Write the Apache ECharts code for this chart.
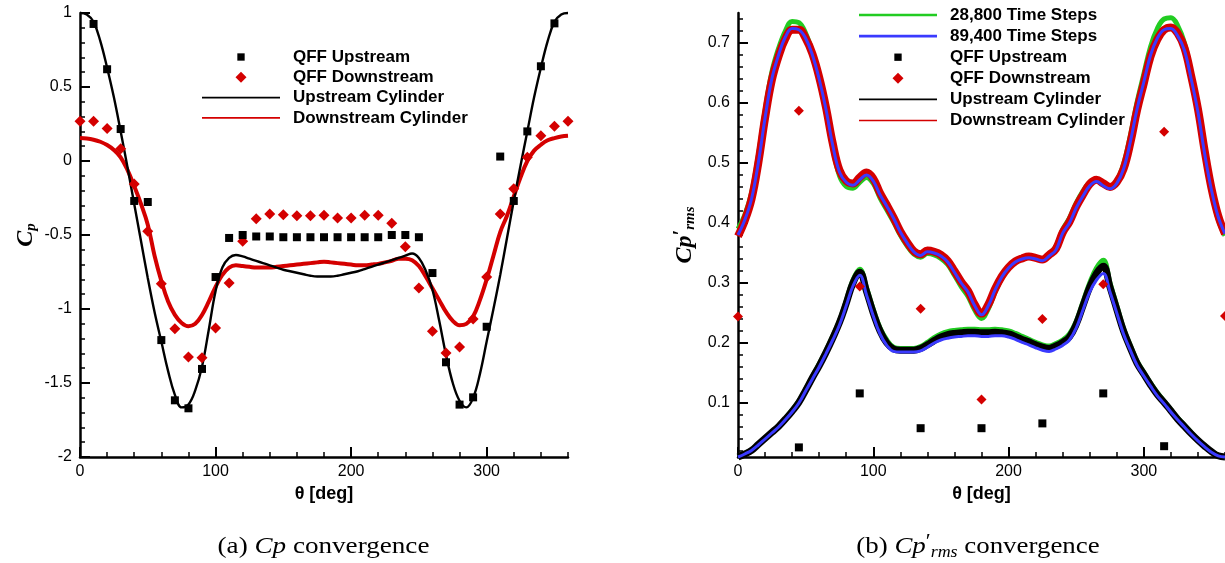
<!DOCTYPE html>
<html><head><meta charset="utf-8">
<script src="https://cdn.jsdelivr.net/npm/echarts@6/dist/echarts.min.js"></script>
<style>html,body{margin:0;padding:0;background:#fff}#c{width:1225px;height:563px}</style>
</head><body><div id="c"></div>
<script>
// ---------- shared angles ----------
const thetaLine = [0,5,10,15,20,25,30,35,40,45,50,55,60,65,70,75,80,85,90,95,100,105,110,115,120,125,130,135,140,145,150,155,160,165,170,175,180,185,190,195,200,205,210,215,220,225,230,235,240,245,250,255,260,265,270,275,280,285,290,295,300,305,310,315,320,325,330,335,340,345,350,355,360];

// ---------- (a) Cp ----------
const thetaQffUpA = [10,20,30,40,50,60,70,80,90,100,110,120,130,140,150,160,170,180,190,200,210,220,230,240,250,260,270,280,290,300,310,320,330,340,350];
const cpQffUp = [0.926,0.62,0.216,-0.27,-0.277,-1.21,-1.617,-1.671,-1.405,-0.784,-0.52,-0.50,-0.51,-0.51,-0.515,-0.515,-0.515,-0.515,-0.515,-0.515,-0.515,-0.515,-0.50,-0.50,-0.515,-0.757,-1.36,-1.646,-1.597,-1.12,0.03,-0.27,0.2,0.64,0.93];
const thetaQffDnA = [0,10,20,30,40,50,60,70,80,90,100,110,120,130,140,150,160,170,180,190,200,210,220,230,240,250,260,270,280,290,300,310,320,330,340,350,360];
const cpQffDn = [0.268,0.268,0.22,0.083,-0.155,-0.475,-0.83,-1.133,-1.324,-1.33,-1.128,-0.824,-0.543,-0.39,-0.358,-0.363,-0.37,-0.37,-0.367,-0.385,-0.385,-0.367,-0.367,-0.42,-0.58,-0.858,-1.15,-1.297,-1.257,-1.068,-0.784,-0.358,-0.187,0.025,0.171,0.234,0.268];
const cpUpCyl = [1.0,0.99,0.94,0.81,0.63,0.43,0.2,-0.04,-0.29,-0.54,-0.79,-1.02,-1.22,-1.42,-1.58,-1.665,-1.645,-1.55,-1.39,-1.14,-0.88,-0.72,-0.655,-0.635,-0.645,-0.66,-0.675,-0.69,-0.705,-0.72,-0.735,-0.745,-0.755,-0.765,-0.775,-0.78,-0.78,-0.78,-0.775,-0.765,-0.755,-0.745,-0.73,-0.715,-0.7,-0.685,-0.67,-0.655,-0.64,-0.625,-0.655,-0.74,-0.87,-1.08,-1.31,-1.5,-1.62,-1.665,-1.6,-1.44,-1.22,-1.0,-0.77,-0.52,-0.27,-0.03,0.2,0.43,0.63,0.81,0.94,0.99,1.0];
const cpDnCyl = [0.155,0.152,0.144,0.13,0.108,0.075,0.025,-0.06,-0.17,-0.29,-0.43,-0.64,-0.81,-0.95,-1.04,-1.095,-1.117,-1.1,-1.04,-0.95,-0.85,-0.77,-0.72,-0.705,-0.71,-0.715,-0.72,-0.72,-0.72,-0.715,-0.71,-0.705,-0.7,-0.695,-0.69,-0.685,-0.68,-0.685,-0.69,-0.695,-0.7,-0.705,-0.705,-0.7,-0.695,-0.685,-0.675,-0.66,-0.66,-0.67,-0.71,-0.78,-0.86,-0.94,-1.02,-1.08,-1.11,-1.1,-1.05,-0.94,-0.8,-0.64,-0.48,-0.37,-0.24,-0.11,0.0,0.07,0.11,0.14,0.155,0.165,0.17];

// ---------- (b) Cp'rms ----------
const thetaQffUpB = [45,90,135,180,225,270,315];
const rmsQffUp = [0.026,0.116,0.058,0.058,0.066,0.116,0.028];
const thetaQffDnB = [0,45,90,135,180,225,270,315,360];
const rmsQffDn = [0.244,0.587,0.294,0.257,0.106,0.24,0.298,0.552,0.245];

const rmsDn28800 = [0.390,0.413,0.450,0.512,0.587,0.651,0.691,0.720,0.736,0.734,
  0.716,0.684,0.641,0.588,0.526,0.479,0.461,0.458,0.468,0.476,
  0.466,0.442,0.422,0.402,0.380,0.362,0.348,0.343,0.349,0.347,
  0.341,0.331,0.313,0.294,0.278,0.255,0.241,0.257,0.285,0.308,
  0.325,0.336,0.342,0.345,0.343,0.340,0.349,0.361,0.389,0.408,
  0.433,0.453,0.468,0.473,0.465,0.460,0.471,0.498,0.545,0.601,
  0.648,0.694,0.724,0.740,0.742,0.729,0.700,0.649,0.590,0.516,
  0.453,0.406,0.379];
const rmsDn89400 = [0.380,0.405,0.440,0.500,0.575,0.640,0.680,0.710,0.724,0.722,
  0.708,0.680,0.640,0.590,0.530,0.485,0.468,0.463,0.472,0.480,
  0.470,0.447,0.428,0.408,0.385,0.367,0.352,0.346,0.352,0.350,
  0.345,0.335,0.318,0.300,0.285,0.262,0.247,0.262,0.288,0.310,
  0.325,0.335,0.340,0.342,0.340,0.337,0.345,0.355,0.383,0.400,
  0.425,0.445,0.462,0.469,0.462,0.457,0.466,0.490,0.535,0.590,
  0.635,0.680,0.708,0.722,0.724,0.712,0.688,0.640,0.585,0.515,
  0.455,0.410,0.382];
const rmsDnCyl = [0.378,0.404,0.440,0.500,0.575,0.638,0.678,0.707,0.722,0.722,
  0.708,0.682,0.643,0.593,0.533,0.488,0.470,0.466,0.476,0.484,
  0.474,0.450,0.430,0.409,0.386,0.368,0.353,0.348,0.354,0.352,
  0.347,0.337,0.320,0.302,0.287,0.264,0.249,0.264,0.290,0.311,
  0.326,0.336,0.341,0.344,0.342,0.339,0.347,0.357,0.384,0.402,
  0.427,0.447,0.465,0.472,0.466,0.460,0.468,0.490,0.533,0.588,
  0.633,0.678,0.706,0.722,0.726,0.716,0.692,0.645,0.590,0.520,
  0.458,0.412,0.382];
const rmsUp28800 = [0.011,0.016,0.022,0.032,0.042,0.052,0.062,0.074,0.088,0.103,
  0.123,0.144,0.165,0.187,0.211,0.237,0.270,0.305,0.323,0.292,
  0.256,0.225,0.205,0.193,0.191,0.191,0.191,0.194,0.201,0.209,
  0.215,0.219,0.221,0.222,0.223,0.223,0.222,0.222,0.223,0.222,
  0.220,0.216,0.211,0.206,0.201,0.197,0.195,0.199,0.205,0.215,
  0.236,0.268,0.300,0.325,0.338,0.300,0.262,0.224,0.196,0.170,
  0.151,0.133,0.117,0.103,0.089,0.075,0.063,0.051,0.039,0.029,
  0.020,0.013,0.011];
const rmsUp89400 = [0.010,0.015,0.021,0.030,0.040,0.050,0.060,0.072,0.085,0.100,
  0.120,0.140,0.160,0.182,0.205,0.230,0.262,0.295,0.313,0.280,
  0.245,0.215,0.196,0.186,0.185,0.185,0.185,0.187,0.193,0.200,
  0.205,0.208,0.210,0.211,0.212,0.212,0.211,0.211,0.212,0.212,
  0.210,0.206,0.201,0.197,0.192,0.188,0.186,0.190,0.196,0.205,
  0.225,0.255,0.285,0.305,0.316,0.285,0.250,0.215,0.188,0.163,
  0.145,0.128,0.112,0.099,0.085,0.072,0.060,0.048,0.037,0.027,
  0.018,0.012,0.010];
const rmsUpCyl = [0.010,0.015,0.021,0.031,0.041,0.051,0.061,0.073,0.086,0.101,
  0.121,0.142,0.162,0.184,0.208,0.234,0.266,0.300,0.318,0.286,
  0.250,0.220,0.200,0.190,0.188,0.188,0.188,0.191,0.197,0.204,
  0.210,0.214,0.216,0.217,0.218,0.218,0.217,0.217,0.218,0.217,
  0.215,0.211,0.206,0.202,0.197,0.193,0.191,0.195,0.201,0.210,
  0.231,0.262,0.293,0.316,0.328,0.293,0.256,0.220,0.192,0.166,
  0.148,0.130,0.114,0.101,0.087,0.073,0.061,0.049,0.038,0.028,
  0.019,0.012,0.010];

// ---------- tick values ----------
const xMajorTicks = [0,100,200,300];
const xMinorTicks = [20,40,60,80,120,140,160,180,220,240,260,280,320,340,360];
const yMajorTicksA = [-2,-1.5,-1,-0.5,0,0.5,1];
const yMinorTicksA = [-1.9,-1.8,-1.7,-1.6,-1.4,-1.3,-1.2,-1.1,-0.9,-0.8,-0.7,-0.6,-0.4,-0.3,-0.2,-0.1,0.1,0.2,0.3,0.4,0.6,0.7,0.8,0.9];
const yMajorTicksB = [0.1,0.2,0.3,0.4,0.5,0.6,0.7];
const yMinorTicksB = [0.02,0.04,0.06,0.08,0.12,0.14,0.16,0.18,0.22,0.24,0.26,0.28,0.32,0.34,0.36,0.38,0.42,0.44,0.46,0.48,0.52,0.54,0.56,0.58,0.62,0.64,0.66,0.68,0.72,0.74];

const pairs = (xs, ys) => xs.map((x, i) => [x, ys[i]]);

const RED = '#d40000', GREEN = '#22cc22', BLUE = '#3a3aff', BLACK = '#000';
const SANS = 'Liberation Sans', SERIF = 'Liberation Serif';
const LINE_ICON = 'path://M0,0H78V1.6H0Z';
const SQUARE_ICON = 'path://M0,0M12,12M2,2H10V10H2Z';
const DIAMOND_ICON = 'path://M5.5,0L11,5.5L5.5,11L0,5.5Z';

function mainX(grid, name) {
  return {
    type: 'value', gridIndex: grid, min: 0, max: 360, position: 'bottom',
    axisLine: { show: true, onZero: false, lineStyle: { color: BLACK, width: 2.5 } },
    axisTick: { show: true, inside: true, length: 10, customValues: xMajorTicks, lineStyle: { color: BLACK, width: 2 } },
    axisLabel: { show: true, customValues: xMajorTicks, color: BLACK, fontFamily: SANS, fontSize: 16, margin: 7 },
    splitLine: { show: false },
    name: name, nameLocation: 'middle', nameGap: 22,
    nameTextStyle: { color: BLACK, fontFamily: SANS, fontSize: 18, fontWeight: 'bold' }
  };
}
function minorX(grid) {
  return {
    type: 'value', gridIndex: grid, min: 0, max: 360, position: 'bottom',
    axisLine: { show: false, onZero: false },
    axisTick: { show: true, inside: true, length: 5, customValues: xMinorTicks, lineStyle: { color: BLACK, width: 1.5 } },
    axisLabel: { show: false }, splitLine: { show: false }
  };
}
function mainY(grid, min, max, ticks, name, rich, gap) {
  return {
    type: 'value', gridIndex: grid, min: min, max: max, position: 'left',
    axisLine: { show: true, onZero: false, lineStyle: { color: BLACK, width: 2.5 } },
    axisTick: { show: true, inside: true, length: 10, customValues: ticks, lineStyle: { color: BLACK, width: 2 } },
    axisLabel: { show: true, customValues: ticks, color: BLACK, fontFamily: SANS, fontSize: 16, margin: 8 },
    splitLine: { show: false },
    name: name, nameLocation: 'middle', nameRotate: 90, nameGap: gap, nameMoveOverlap: false,
    nameTextStyle: { rich: rich }
  };
}
function minorY(grid, min, max, ticks) {
  return {
    type: 'value', gridIndex: grid, min: min, max: max, position: 'left',
    axisLine: { show: false, onZero: false },
    axisTick: { show: true, inside: true, length: 5, customValues: ticks, lineStyle: { color: BLACK, width: 1.5 } },
    axisLabel: { show: false }, splitLine: { show: false }
  };
}

const nameFont = { fontFamily: SERIF, fontWeight: 'bold', fontStyle: 'italic', color: BLACK };
const richA = {
  c: Object.assign({ fontSize: 24 }, nameFont),
  s: Object.assign({ fontSize: 15, padding: [12, 0, 0, 0] }, nameFont)
};
const richB = {
  c: Object.assign({ fontSize: 24 }, nameFont),
  pr: Object.assign({ fontSize: 20, padding: [0, 0, 6, 0] }, nameFont),
  s: Object.assign({ fontSize: 15, padding: [12, 0, 0, 0] }, nameFont)
};

function lineS(name, x, y, xi, yi, color, width, z) {
  return { name: name, type: 'line', xAxisIndex: xi, yAxisIndex: yi, data: pairs(x, y),
    smooth: 0.4, showSymbol: false, symbol: 'none', clip: false, z: z,
    lineStyle: { color: color, width: width }, itemStyle: { color: color }, emphasis: { disabled: true } };
}
function scatS(name, x, y, xi, yi, symbol, size, color) {
  return { name: name, type: 'scatter', xAxisIndex: xi, yAxisIndex: yi, data: pairs(x, y),
    symbol: symbol, symbolSize: size, clip: false, z: 5,
    itemStyle: { color: color, opacity: 1 }, emphasis: { disabled: true } };
}

const legendText = { color: BLACK, fontFamily: SANS, fontSize: 17, fontWeight: 'bold', padding: [0, 0, 0, 8] };

const option = {
  animation: false,
  backgroundColor: '#fff',
  grid: [
    { left: 80, top: 13, width: 488, height: 444 },
    { left: 738, top: 13, width: 489, height: 444 }
  ],
  xAxis: [ mainX(0, 'θ [deg]'), minorX(0), mainX(1, 'θ [deg]'), minorX(1) ],
  yAxis: [
    mainY(0, -2, 1, yMajorTicksA, '{c|C}{s|p}', richA, 41),
    minorY(0, -2, 1, yMinorTicksA),
    mainY(1, 0.01, 0.75, yMajorTicksB, '{c|Cp}{pr|′}{s|rms}', richB, 40),
    minorY(1, 0.01, 0.75, yMinorTicksB)
  ],
  legend: [
    { orient: 'vertical', left: 202, top: 48.5, padding: 0, itemWidth: 78, itemHeight: 11, itemGap: 3.3,
      selectedMode: false, textStyle: legendText,
      data: [
        { name: 'QFF Upstream', icon: SQUARE_ICON, itemStyle: { opacity: 1 } },
        { name: 'QFF Downstream', icon: DIAMOND_ICON, itemStyle: { opacity: 1 } },
        { name: 'Upstream Cylinder', icon: LINE_ICON },
        { name: 'Downstream Cylinder', icon: LINE_ICON }
      ] },
    { orient: 'vertical', left: 859, top: 6.5, padding: 0, itemWidth: 78, itemHeight: 11, itemGap: 4.1,
      selectedMode: false, textStyle: legendText,
      data: [
        { name: '28,800 Time Steps', icon: 'path://M0,0H78V2.6H0Z' },
        { name: '89,400 Time Steps', icon: 'path://M0,0H78V2.6H0Z' },
        { name: 'QFF Upstream', icon: SQUARE_ICON, itemStyle: { opacity: 1 } },
        { name: 'QFF Downstream', icon: DIAMOND_ICON, itemStyle: { opacity: 1 } },
        { name: 'Upstream Cylinder', icon: LINE_ICON },
        { name: 'Downstream Cylinder', icon: LINE_ICON }
      ] }
  ],
  series: [
    // (a)
    lineS('Downstream Cylinder', thetaLine, cpDnCyl, 0, 0, RED, 4, 2),
    lineS('Upstream Cylinder', thetaLine, cpUpCyl, 0, 0, BLACK, 2.4, 3),
    scatS('QFF Downstream', thetaQffDnA, cpQffDn, 0, 0, 'diamond', 11, RED),
    scatS('QFF Upstream', thetaQffUpA, cpQffUp, 0, 0, 'rect', 8, BLACK),
    // (b)
    lineS('28,800 Time Steps', thetaLine, rmsDn28800, 2, 2, GREEN, 5, 1),
    lineS('28,800 Time Steps', thetaLine, rmsUp28800, 2, 2, GREEN, 5, 1),
    lineS('Downstream Cylinder', thetaLine, rmsDnCyl, 2, 2, RED, 8, 2),
    lineS('Upstream Cylinder', thetaLine, rmsUpCyl, 2, 2, BLACK, 7, 2),
    lineS('89,400 Time Steps', thetaLine, rmsDn89400, 2, 2, BLUE, 3, 3),
    lineS('89,400 Time Steps', thetaLine, rmsUp89400, 2, 2, BLUE, 3, 3),
    scatS('QFF Downstream', thetaQffDnB, rmsQffDn, 2, 2, 'diamond', 10, RED),
    scatS('QFF Upstream', thetaQffUpB, rmsQffUp, 2, 2, 'rect', 8, BLACK)
  ],
  graphic: [
    { type: 'text', x: 323.5, y: 547, scaleX: 1.13,
      style: { text: '{n|(a) }{m|Cp}{n| convergence}', textAlign: 'center', textVerticalAlign: 'middle',
        rich: { n: { fontFamily: SERIF, fontSize: 24, fill: BLACK, color: BLACK },
                m: { fontFamily: SERIF, fontSize: 24, fontStyle: 'italic', fill: BLACK, color: BLACK } } } },
    { type: 'text', x: 978, y: 547, scaleX: 1.12,
      style: { text: '{n|(b) }{m|Cp}{pr|′}{s|rms}{n| convergence}', textAlign: 'center', textVerticalAlign: 'middle',
        rich: { n: { fontFamily: SERIF, fontSize: 24, fill: BLACK, color: BLACK },
                m: { fontFamily: SERIF, fontSize: 24, fontStyle: 'italic', fill: BLACK, color: BLACK },
                pr: { fontFamily: SERIF, fontSize: 20, fill: BLACK, color: BLACK, padding: [0, 0, 8, 0] },
                s: { fontFamily: SERIF, fontSize: 16, fontStyle: 'italic', fill: BLACK, color: BLACK, padding: [12, 0, 0, 0] } } } }
  ]
};

const chart = echarts.init(document.getElementById('c'), null, { renderer: 'canvas' });
chart.setOption(option);
</script>
</body></html>
